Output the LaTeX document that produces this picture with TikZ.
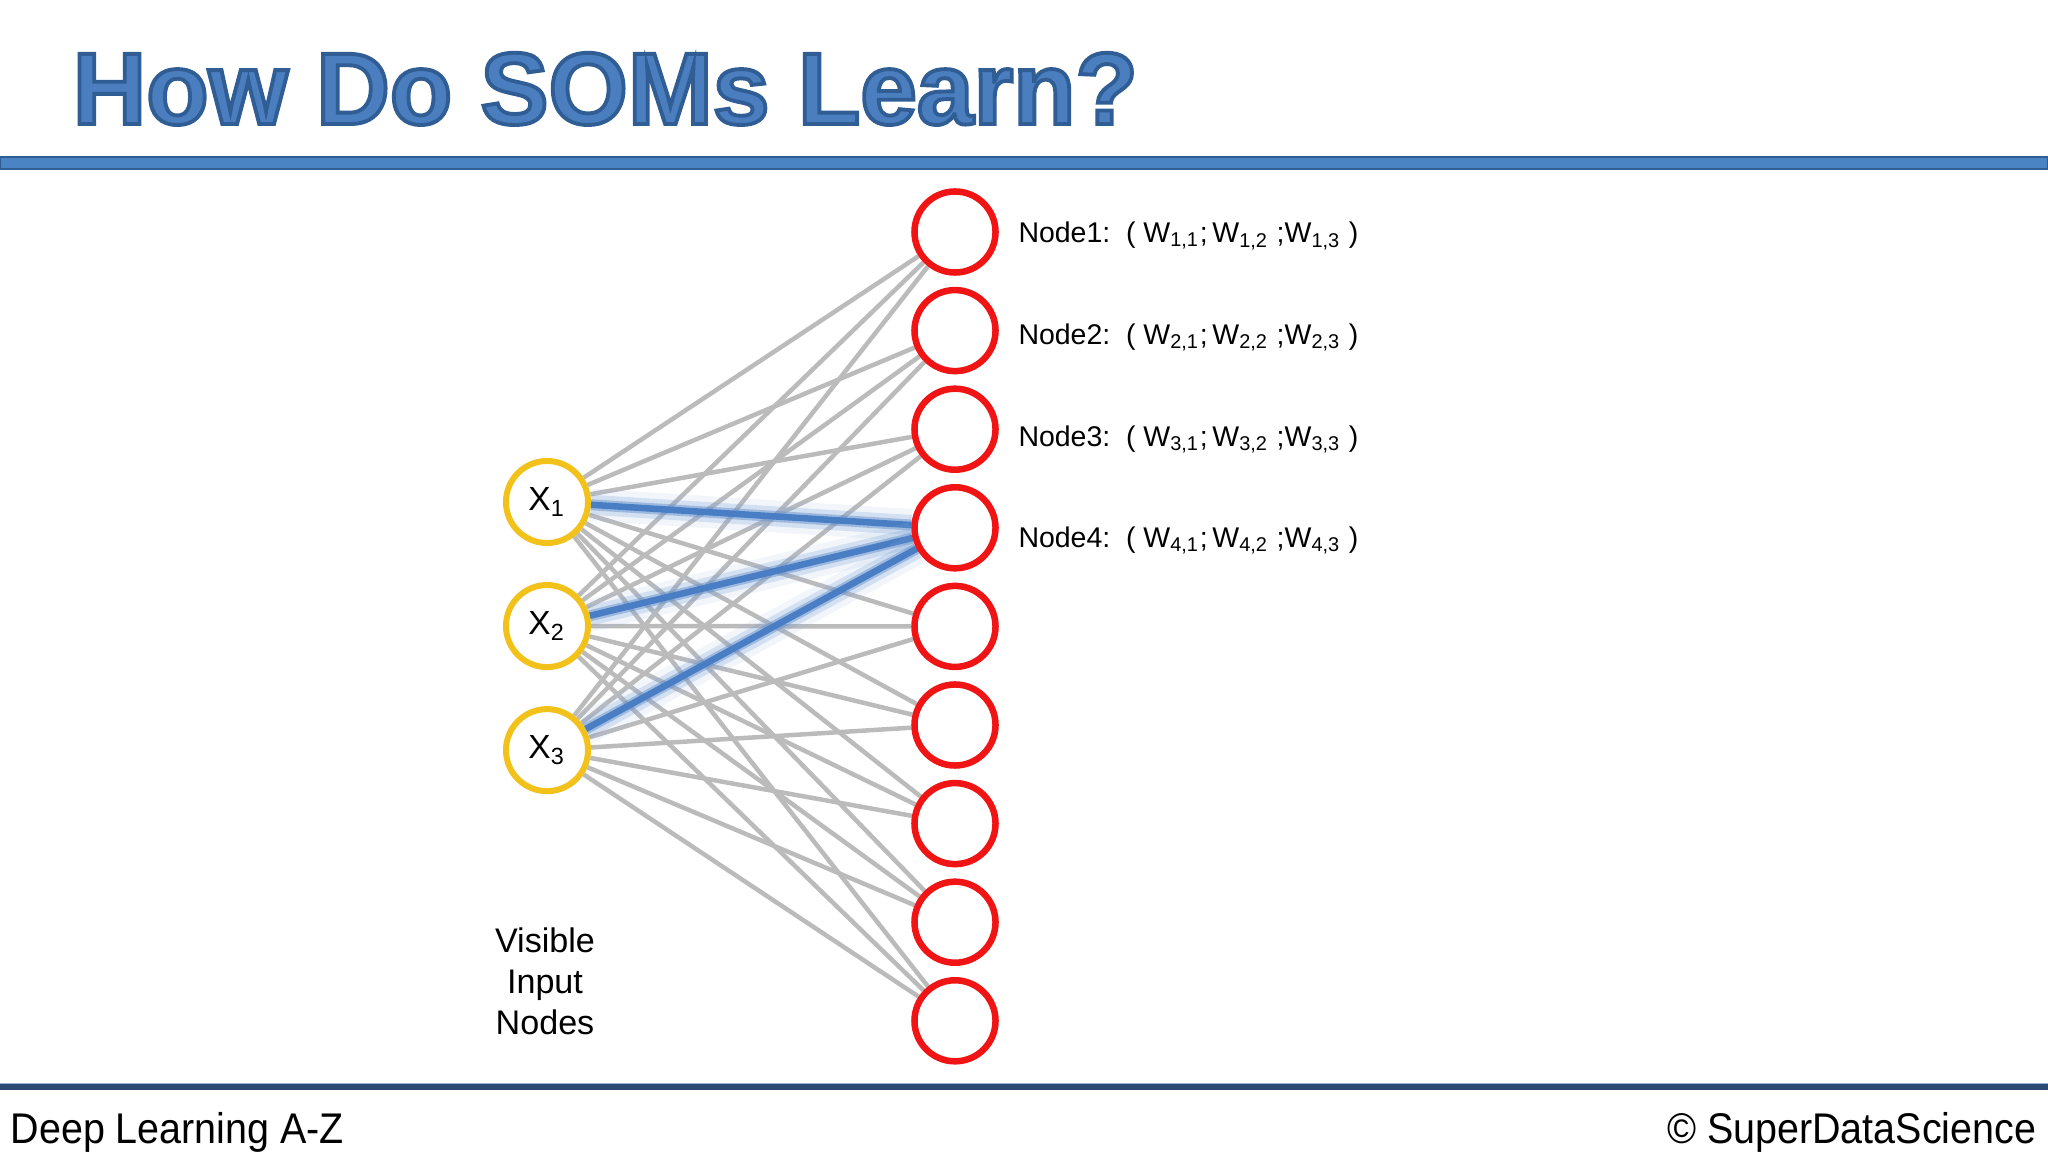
\documentclass[tikz,border=0pt]{standalone}
\usepackage{fontspec}
\setmainfont{Liberation Sans}
\newfontfamily\footfont[FakeStretch=0.92]{Liberation Sans}
\usepackage{xcolor}
\usetikzlibrary{positioning,shadows,backgrounds}
\definecolor{titleblue}{HTML}{4A7EBF}
\definecolor{titleedge}{HTML}{2F5D94}
\definecolor{barblue}{HTML}{4A84C4}
\definecolor{footnavy}{HTML}{2A4A75}
\definecolor{inyellow}{HTML}{F2C21A}
\definecolor{outred}{HTML}{F01414}
\definecolor{linkgrey}{HTML}{BBBBBB}
\definecolor{bmublue}{HTML}{4A7EC4}
\newcommand{\outlined}[1]{\special{pdf:literal direct 0.184 0.365 0.58 RG 1.1 w 2 Tr}#1\special{pdf:literal direct 0 Tr}}

\begin{document}
\begin{tikzpicture}[x=0.01cm, y=-0.01cm,
  titletext/.style={anchor=base west, inner sep=0pt, font=\fontsize{29}{34}\selectfont\bfseries},
  innode/.style={circle, draw=inyellow, line width=0.06cm, fill=white, minimum size=0.82cm, inner sep=0pt,
    font=\fontsize{9.5}{11}\selectfont, drop shadow={shadow xshift=0.012cm, shadow yshift=-0.025cm, opacity=0.45, fill=black!55}},
  outnode/.style={circle, draw=outred, line width=0.065cm, fill=white, minimum size=0.81cm, inner sep=0pt,
    drop shadow={shadow xshift=0.012cm, shadow yshift=-0.025cm, opacity=0.45, fill=black!55}},
  wlabel/.style={inner sep=0pt, font=\fontsize{8.1}{10}\selectfont},
  link/.style={draw=linkgrey, line width=0.045cm},
  hot/.style={draw=bmublue, line width=0.065cm,
    preaction={draw=bmublue!60, line width=0.32cm, opacity=0.12},
    preaction={draw=bmublue!75, line width=0.2cm, opacity=0.25},
    preaction={draw=bmublue!90, line width=0.11cm, opacity=0.45}},
  foot/.style={inner sep=0pt, font=\footfont\fontsize{12.2}{14}\selectfont}]
  \useasboundingbox (0,0) rectangle (2048,1152);

  \node[titletext, text=titleblue] (title) at (72,124) {\outlined{How Do SOMs Learn?}};
  \fill[barblue, draw=titleedge, line width=0.015cm] (0,157) rectangle (2048,169);

  \node[innode] (x1) at (547,502) {X\textsubscript{1}};
  \node[innode, on grid, below=1.24cm of x1] (x2) {X\textsubscript{2}};
  \node[innode, on grid, below=1.24cm of x2] (x3) {X\textsubscript{3}};

  \foreach \i in {1,...,9}
    \node[outnode] (n\i) at (955,{232+98.6*(\i-1)}) {};

  \foreach \i in {1,...,4}
    \node[wlabel, right=0.19cm of n\i, yshift=-{(0.04+0.03*(\i-1))*1cm}] (w\i)
      {Node\i:\hspace{0.55em}( W\textsubscript{\i,1};\,W\textsubscript{\i,2} ;W\textsubscript{\i,3} )};

  \begin{pgfonlayer}{background}
    \foreach \i in {1,2,3}
      \foreach \j in {1,...,9}
        \draw[link] (x\i) -- (n\j);
    \foreach \i in {1,2,3}
      \draw[hot] (x\i) -- (n4);
  \end{pgfonlayer}

  \node[align=center, inner sep=0pt, font=\fontsize{9.7}{11.7}\selectfont] (visible) at (545,981) {Visible\\Input\\Nodes};

  \fill[footnavy] (0,1084) rectangle (2048,1090);
  \draw[barblue!60, line width=0.01cm] (0,1083) -- (2048,1083);
  \node[foot, anchor=base west] (course) at (10,1143) {Deep Learning A-Z};
  \node[foot, anchor=base east] (brand) at (2037,1143) {© SuperDataScience};
\end{tikzpicture}
\end{document}
